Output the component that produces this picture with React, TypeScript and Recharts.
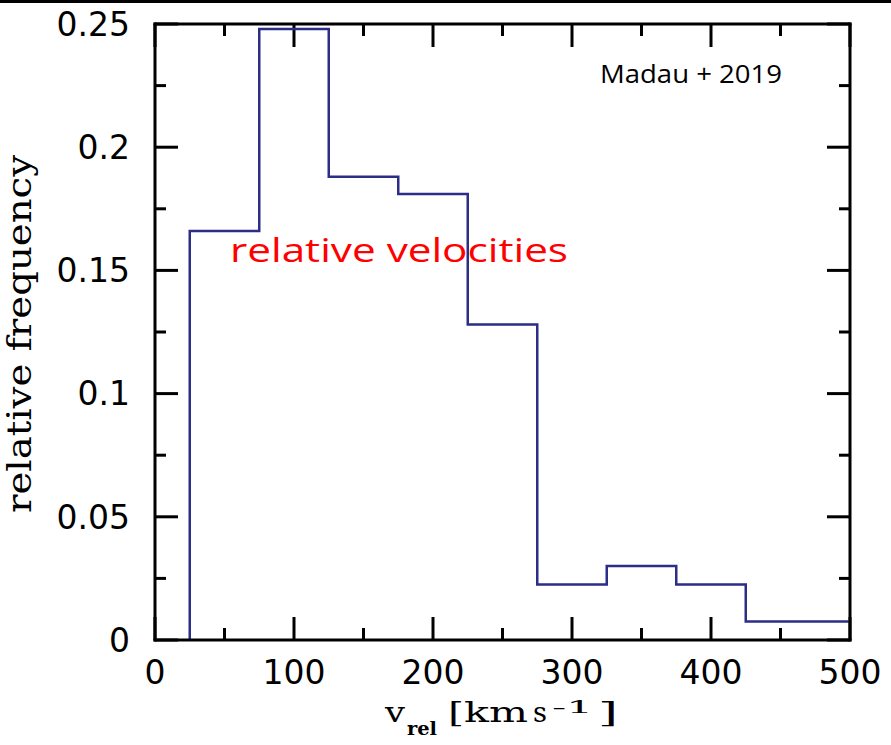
import { LineChart, Line, XAxis, YAxis, ReferenceLine } from 'recharts'

// histogram of relative velocities, bins 50 km/s wide
const binStarts = [25, 75, 125, 175, 225, 275, 325, 375, 425]
const binEnd = 500
const freqs = [0.166, 0.248, 0.188, 0.181, 0.128, 0.0225, 0.030, 0.0225, 0.0075]

const xMajor = [0, 100, 200, 300, 400, 500]
const xMinor = [50, 150, 250, 350, 450]
const yMajor = [0, 0.05, 0.1, 0.15, 0.2, 0.25]
const yMinor = [0.025, 0.075, 0.125, 0.175, 0.225]

const steps = [
  { v: binStarts[0], f: 0 },
  ...binStarts.map((v, i) => ({ v, f: freqs[i] })),
  { v: binEnd, f: freqs[freqs.length - 1] },
]

const W = 891
const H = 745
const tickFont = { fill: '#000', fontSize: 33, fontFamily: 'DejaVu Sans' }
const line3 = { stroke: '#000', strokeWidth: 3, strokeLinecap: 'square' as const }

const xDom: [number, number] = [0, 500]
const yDom: [number, number] = [0, 0.25]

// inward ticks drawn at both ends of a reference line
const vTick = (len: number) => (p: any) => {
  const top = Math.min(p.y1, p.y2)
  const bot = Math.max(p.y1, p.y2)
  return (
    <g>
      <line x1={p.x1} x2={p.x1} y1={bot} y2={bot - len} stroke="#000" strokeWidth={3} />
      <line x1={p.x1} x2={p.x1} y1={top} y2={top + len} stroke="#000" strokeWidth={3} />
    </g>
  )
}
const hTick = (len: number) => (p: any) => {
  const l = Math.min(p.x1, p.x2)
  const r = Math.max(p.x1, p.x2)
  return (
    <g>
      <line x1={l} x2={l + len} y1={p.y1} y2={p.y1} stroke="#000" strokeWidth={3} />
      <line x1={r} x2={r - len} y1={p.y1} y2={p.y1} stroke="#000" strokeWidth={3} />
    </g>
  )
}

const App = () => {
  return (
    <div style={{ position: 'absolute', left: 0, top: 0, width: W, height: H, background: '#fff' }}>
      <LineChart width={W} height={H} data={steps} margin={{ top: 24, right: 41, bottom: 104, left: 154 }}>
        <XAxis xAxisId="b" dataKey="v" type="number" domain={xDom} allowDataOverflow ticks={xMajor}
          interval={0} height={1} stroke="#000" axisLine={line3} tickLine={false} tickSize={0} tickMargin={21} tick={tickFont} />
        <XAxis xAxisId="t" orientation="top" mirror type="number" domain={xDom} allowDataOverflow ticks={xMajor}
          interval={0} height={1} axisLine={line3} tickLine={false} tick={false} />
        <YAxis yAxisId="l" type="number" domain={yDom} allowDataOverflow ticks={yMajor}
          interval={0} width={1} stroke="#000" axisLine={line3} tickLine={false} tickSize={0} tickMargin={25} tick={tickFont} />
        <YAxis yAxisId="r" orientation="right" mirror type="number" domain={yDom} allowDataOverflow ticks={yMajor}
          interval={0} width={1} axisLine={line3} tickLine={false} tick={false} />
        {xMajor.map((v) => (
          <ReferenceLine key={'xM' + v} xAxisId="b" yAxisId="l" x={v} shape={vTick(23)} />
        ))}
        {xMinor.map((v) => (
          <ReferenceLine key={'xm' + v} xAxisId="b" yAxisId="l" x={v} shape={vTick(12)} />
        ))}
        {yMajor.map((v) => (
          <ReferenceLine key={'yM' + v} xAxisId="b" yAxisId="l" y={v} shape={hTick(23)} />
        ))}
        {yMinor.map((v) => (
          <ReferenceLine key={'ym' + v} xAxisId="b" yAxisId="l" y={v} shape={hTick(11)} />
        ))}
        <Line xAxisId="b" yAxisId="l" type="stepAfter" dataKey="f" stroke="#2b2d86" strokeWidth={2.5}
          dot={false} isAnimationActive={false} />
      </LineChart>
      <svg width={W} height={H} style={{ position: 'absolute', left: 0, top: 0, pointerEvents: 'none' }}>
        <rect x={0} y={0} width={W} height={3} fill="#000" />
        <text x={600} y={83} fontFamily="Open Sans" fontSize={26} fill="#000" textLength={182} lengthAdjust="spacingAndGlyphs">Madau + 2019</text>
        <text x={230} y={262} fontFamily="Open Sans" fontSize={33} fill="#ff0000" textLength={338} lengthAdjust="spacingAndGlyphs">relative velocities</text>
        <text transform="translate(31,334) rotate(-90)" textAnchor="middle" fontFamily="DejaVu Serif" fontSize={33} fill="#000"
          textLength={358} lengthAdjust="spacingAndGlyphs">relative frequency</text>
        <g fontFamily="DejaVu Serif" fill="#000">
          <text x={385} y={722} fontSize={27} textLength={20} lengthAdjust="spacingAndGlyphs">v</text>
          <text x={407} y={735} fontSize={18} fontWeight="bold" textLength={30} lengthAdjust="spacingAndGlyphs">rel</text>
          <text x={448} y={722} fontSize={27} textLength={80} lengthAdjust="spacingAndGlyphs">[km</text>
          <text x={533} y={722} fontSize={27} textLength={14} lengthAdjust="spacingAndGlyphs">s</text>
          <text x={552} y={713} fontSize={17} textLength={41} lengthAdjust="spacingAndGlyphs">-1</text>
          <text x={598} y={722} fontSize={27} textLength={20} lengthAdjust="spacingAndGlyphs">]</text>
        </g>
      </svg>
    </div>
  )
}

export default App
